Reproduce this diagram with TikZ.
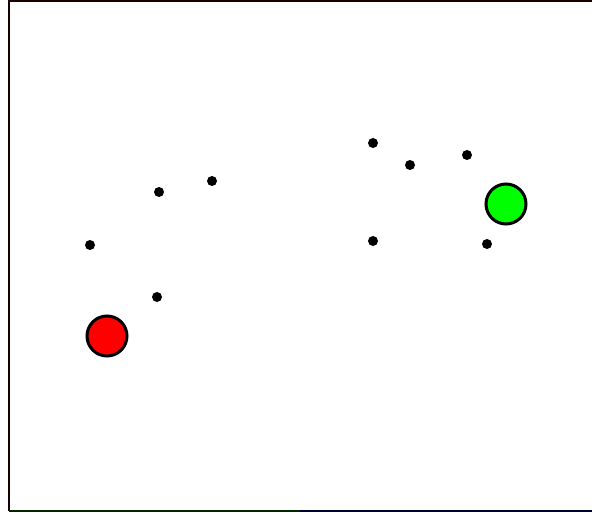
\documentclass[tikz,border=0pt]{standalone}
\usepackage{tikz}

\begin{document}
\begin{tikzpicture}[x=1pt,y=-1pt,
  dot/.style={circle,fill=black,inner sep=0pt,minimum size=10pt},
  big/.style={circle,draw=black,line width=3pt,inner sep=0pt,minimum size=40pt},
  frm/.style={line width=2pt,draw=black!90}]
\useasboundingbox (0,0) rectangle (592,513);

% ---- frame (right side open) ----
\draw[frm,draw=black!90!red] (592,1) -- (9,1) -- (9,511);
\draw[frm,draw=black!85!green] (9,511) -- (300,511);
\draw[frm,draw=black!80!blue] (300,511) -- (592,511);

% ---- start / goal ----
\node[big,fill=red] (start) at (107,336) {};
\node[big,fill=green] (goal) at (506,204) {};

% ---- obstacles ----
\node[dot] (o1) at (90,245) {};
\node[dot] (o2) at (159,192) {};
\node[dot] (o3) at (212,181) {};
\node[dot] (o4) at (157,297) {};
\node[dot] (o5) at (373,143) {};
\node[dot] (o6) at (410,165) {};
\node[dot] (o7) at (467,155) {};
\node[dot] (o8) at (373,241) {};
\node[dot] (o9) at (487,244) {};
\end{tikzpicture}
\end{document}
